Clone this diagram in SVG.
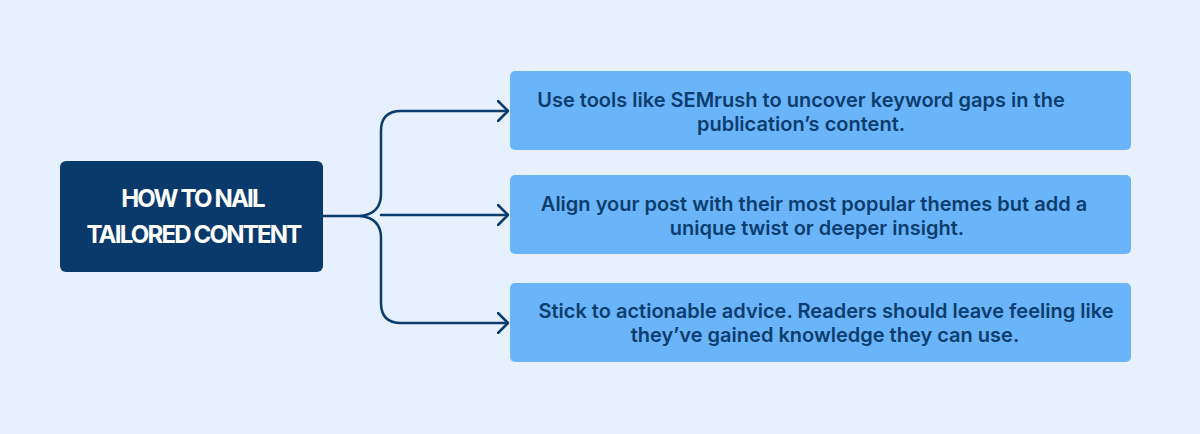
<svg xmlns="http://www.w3.org/2000/svg" width="1200" height="434" viewBox="0 0 1200 434">
<defs>
<style>
.main{fill:#0a3a6b}
.item{fill:#6ab4fa}
.mt{font-family:Inter,"Liberation Sans",sans-serif;font-weight:700;font-size:24px;fill:#ffffff;text-anchor:middle;letter-spacing:-1.8px}
.it{font-family:Inter,"Liberation Sans",sans-serif;font-weight:600;font-size:20px;fill:#0b3d6d;text-anchor:middle}
.c{fill:none;stroke:#0a3d6e;stroke-width:2.5;stroke-linecap:round;stroke-linejoin:round}
</style>
<marker id="arr" viewBox="0 0 12 22" refX="11" refY="11" markerWidth="12" markerHeight="22" markerUnits="userSpaceOnUse" orient="auto">
<path d="M1,1 L11,11 L1,21" fill="none" stroke="#0a3d6e" stroke-width="2.5" stroke-linecap="round" stroke-linejoin="round"/>
</marker>
</defs>
<rect width="1200" height="434" fill="#e6f0fe"/>
<g id="connectors">
<path class="c" d="M323,216 L360,216 Q381,214 381,194 L381,131 Q381,111 401,111 L508,111" marker-end="url(#arr)"/>
<path class="c" d="M381,215 L508,215" marker-end="url(#arr)"/>
<path class="c" d="M360,216 Q381,218 381,238 L381,303 Q381,323 401,323 L508,323" marker-end="url(#arr)"/>
</g>
<g id="main">
<rect class="main" x="60" y="161" width="263" height="111" rx="6"/>
<text class="mt" x="192.5" y="207">HOW TO NAIL</text>
<text class="mt" x="193.5" y="243">TAILORED CONTENT</text>
</g>
<g id="item1">
<rect class="item" x="510" y="71" width="621" height="79" rx="5"/>
<text class="it" x="801" y="107">Use tools like SEMrush to uncover keyword gaps in the</text>
<text class="it" x="801" y="131">publication’s content.</text>
</g>
<g id="item2">
<rect class="item" x="510" y="175" width="621" height="79" rx="5"/>
<text class="it" x="814" y="211">Align your post with their most popular themes but add a</text>
<text class="it" x="817" y="235">unique twist or deeper insight.</text>
</g>
<g id="item3">
<rect class="item" x="510" y="283" width="621" height="79" rx="5"/>
<text class="it" x="826" y="318">Stick to actionable advice. Readers should leave feeling like</text>
<text class="it" x="825" y="342">they’ve gained knowledge they can use.</text>
</g>
</svg>
